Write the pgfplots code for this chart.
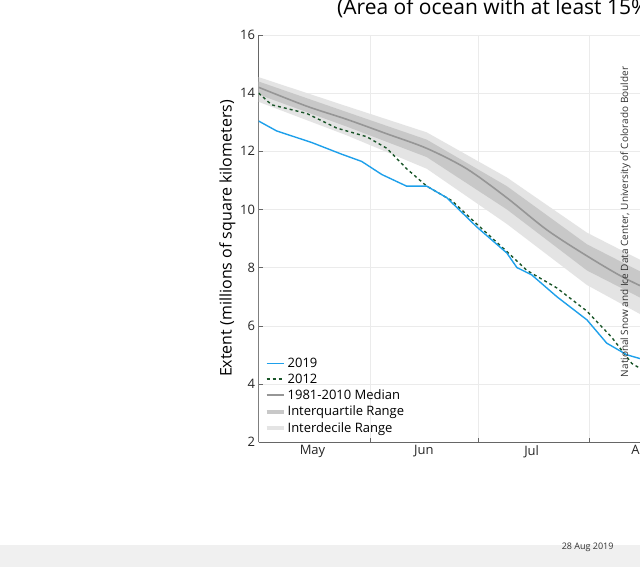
\documentclass[border=0pt]{standalone}
\usepackage{pgfplots}
\pgfplotsset{compat=1.18}
\usepackage{fontspec}
\setmainfont{Open Sans}
\definecolor{b19}{RGB}{30,160,235}
\definecolor{g12}{RGB}{25,85,40}
\definecolor{med}{RGB}{150,150,150}
\definecolor{iqr}{RGB}{200,200,200}
\definecolor{idr}{RGB}{228,228,228}
\begin{document}
\begin{tikzpicture}[x=1pt,y=1pt]
\useasboundingbox (0,0) rectangle (640,567);
\fill[white] (0,0) rectangle (640,567);
\fill[black!6] (0,0) rectangle (640,22);
\begin{axis}[at={(72,43)},anchor=south west,scale only axis,width=546pt,height=407pt,
  xmin=121,xmax=273,ymin=2,ymax=16,
  xtick={152,182,213,244},xticklabels={},
  extra x ticks={136,167,197,228,259},extra x tick labels={May,Jun,Jul,Aug,Sep},
  extra x tick style={major tick length=0pt,grid=none},
  ytick={2,4,...,16},
  grid=major,major grid style={black!8},
  axis line style={black!60},axis x line*=bottom,axis y line*=left,
  major tick length=4pt,tick style={black!60},
  ticklabel style={font=\fontsize{13}{15}\selectfont,text=black!85},
  /pgf/number format/assume math mode=true,
  ylabel={Extent (millions of square kilometers)},
  ylabel style={font=\fontsize{16}{19}\selectfont,yshift=-2pt},
  title={Arctic Sea Ice Extent\\(Area of ocean with at least 15\% sea ice)},
  title style={font=\fontsize{21}{30}\selectfont,align=center,yshift=8pt},
  legend style={at={(0.005,0.01)},anchor=south west,draw=none,fill=none,
    font=\fontsize{13}{15}\selectfont,row sep=1pt,cells={anchor=west}},
  legend cell align=left,
]
\addlegendimage{b19,line width=1.4pt}\addlegendentry{2019}
\addlegendimage{g12,dashed,line width=1.4pt}\addlegendentry{2012}
\addlegendimage{med,line width=1.6pt}\addlegendentry{1981-2010 Median}
\addlegendimage{iqr,line width=4pt}\addlegendentry{Interquartile Range}
\addlegendimage{idr,line width=4pt}\addlegendentry{Interdecile Range}

\addplot[fill=idr,draw=none,forget plot] coordinates {(121,14.55)(145.5,13.55)(167.8,12.65)(190.1,11.1)(212.4,9.2)(234.6,7.8)(256.9,7.2)(273,7.75)
 (273,5.35)(256.9,5.0)(234.6,5.9)(212.4,7.4)(190.1,9.5)(167.8,11.4)(145.5,12.55)(121,13.7)} \closedcycle;
\addplot[fill=iqr,draw=none,forget plot] coordinates {(121,14.4)(145.5,13.35)(167.8,12.4)(190.1,10.8)(212.4,8.8)(234.6,7.4)(256.9,6.85)(273,7.35)
 (273,6.35)(256.9,5.85)(234.6,6.5)(212.4,7.9)(190.1,10.0)(167.8,11.8)(145.5,12.85)(121,13.95)} \closedcycle;
\addplot[med,line width=1.6pt,smooth,forget plot] coordinates {(121,14.2)(134.4,13.55)(145.5,13.1)(156.7,12.6)(167.8,12.1)(178.9,11.4)(190.1,10.4)(201.2,9.3)(212.4,8.4)(223.5,7.6)(234.6,7.0)(245.8,6.7)(256.9,6.45)(262.5,6.4)(268.1,6.6)(273,6.95)};
\addplot[g12,dashed,line width=1.4pt,forget plot] coordinates {(121,14.0)(124.6,13.6)(134.4,13.3)(142.7,12.8)(151.1,12.5)(156.7,12.1)(162.2,11.4)(167.8,10.8)(174.8,10.3)(181.7,9.5)(190.1,8.55)(195.7,7.9)(204,7.3)(212.4,6.5)(219.3,5.6)(224.9,4.7)(234.6,4.0)(243,3.6)(251.4,3.5)(259.7,3.4)(265.3,3.6)(273,3.9)};
\addplot[b19,line width=1.4pt,forget plot] coordinates {(121,13.04)(126,12.7)(135.8,12.3)(144.1,11.9)(149.7,11.65)(155.3,11.2)(162.2,10.8)(167.8,10.8)(173.4,10.4)(181.7,9.4)(190.1,8.5)(192.9,8.0)(197,7.75)(204,7.0)(212.4,6.2)(217.9,5.4)(223.5,5.0)(231.9,4.7)(239.7,4.68)};
\end{axis}
\node[rotate=90,anchor=south,font=\fontsize{10}{12}\selectfont,text=black!80] at (634,345) {National Snow and Ice Data Center, University of Colorado Boulder};
\node[anchor=east,font=\fontsize{9}{11}\selectfont,text=black!80] at (617,20) {28 Aug 2019};
\end{tikzpicture}
\end{document}
